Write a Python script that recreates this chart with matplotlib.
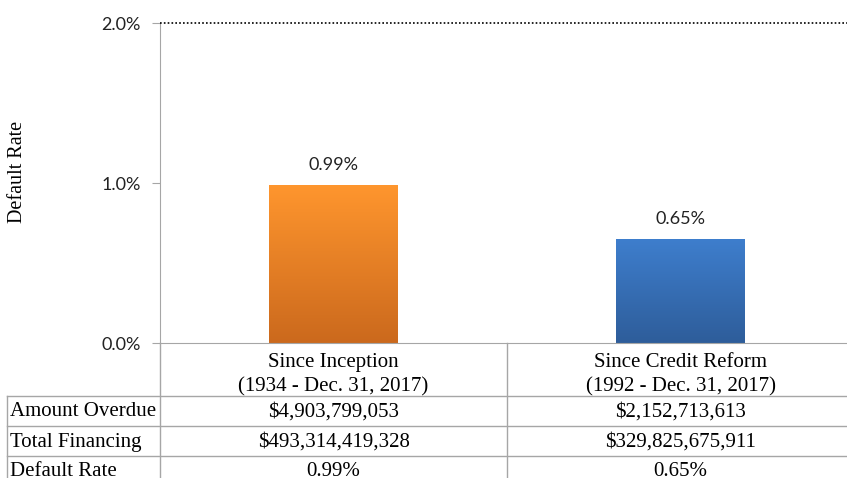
import numpy as np
import matplotlib
matplotlib.use("Agg")
import matplotlib.pyplot as plt
from matplotlib.transforms import blended_transform_factory
from matplotlib.lines import Line2D
from matplotlib.colors import LinearSegmentedColormap

# ---- data ----
categories = ["Since Inception\n(1934 - Dec. 31, 2017)",
              "Since Credit Reform\n(1992 - Dec. 31, 2017)"]
default_rates = [0.99, 0.65]
value_labels = ["0.99%", "0.65%"]
row_labels = ["Amount Overdue", "Total Financing", "Default Rate"]
amount_overdue = ["$4,903,799,053", "$2,152,713,613"]
total_financing = ["$493,314,419,328", "$329,825,675,911"]
rate_text = ["0.99%", "0.65%"]
y_ticks = [0.0, 1.0, 2.0]
y_tick_labels = ["0.0%", "1.0%", "2.0%"]
bar_top_colors = ["#FF962E", "#3E7ECD"]
bar_bottom_colors = ["#CB691D", "#2E5D9A"]

W, H = 847, 478
fig = plt.figure(figsize=(W / 100, H / 100), dpi=100)
fig.patch.set_facecolor("white")

def fx(px):
    return px / W

def fy(py):
    return 1 - py / H

ax_left, ax_right, ax_top, ax_bottom = 160, 854, 23, 343
ax = fig.add_axes([fx(ax_left), fy(ax_bottom), fx(ax_right - ax_left), (ax_bottom - ax_top) / H])
ax.set_xlim(-0.5, 1.5)
ax.set_ylim(0, 2.0)

xpos = np.arange(len(categories))
bar_w = 0.369
bars = ax.bar(xpos, default_rates, width=bar_w, color="none", edgecolor="none", zorder=2)
for i, b in enumerate(bars):
    cmap = LinearSegmentedColormap.from_list("g", [bar_bottom_colors[i], bar_top_colors[i]])
    grad = np.linspace(0, 1, 256).reshape(-1, 1)
    x0, y0 = b.get_x(), b.get_y()
    im = ax.imshow(grad, cmap=cmap, origin="lower", aspect="auto",
                   extent=[x0, x0 + b.get_width(), y0, y0 + b.get_height()], zorder=2)
    im.set_clip_path(b)
    ax.text(xpos[i], default_rates[i] + 0.125, value_labels[i], ha="center", va="center",
            fontsize=13, family="Lato", color="#222222")

ax.set_xlim(-0.5, 1.5)
ax.set_ylim(0, 2.0)

ax.set_yticks(y_ticks)
ax.set_yticklabels(y_tick_labels, family="Lato", fontsize=13, color="#222222")
ax.tick_params(axis="y", direction="out", length=6, color="#A6A6A6", pad=8)
ax.set_xticks([])
ax.spines["right"].set_visible(False)
ax.spines["top"].set_visible(False)
ax.spines["left"].set_color("#A6A6A6")
ax.spines["bottom"].set_color("#A6A6A6")
# dotted top gridline at the maximum tick
ax.axhline(y_ticks[-1], color="black", lw=1.2, linestyle=(0, (1, 1.3)),
           dash_capstyle="butt", clip_on=False, zorder=3)

fig.text(fx(18), fy(172), "Default Rate", rotation=90, ha="center", va="center",
         family="Liberation Serif", fontsize=14.5)

# ---- table below ----
tr = blended_transform_factory(ax.transData, fig.transFigure)
line_c = "#A6A6A6"
row_bounds = [343, 396, 426, 456, 486]
row_centers = [412, 442, 471]

for i, c in enumerate(categories):
    fig.text(xpos[i], fy(375), c, transform=tr,
             ha="center", va="center", family="Liberation Serif", fontsize=15,
             linespacing=1.4)

fig.add_artist(Line2D([fx(160), fx(160)], [fy(343), fy(486)], color=line_c, lw=1))
fig.add_artist(Line2D([0.5, 0.5], [fy(343), fy(486)], transform=tr, color=line_c, lw=1))
fig.add_artist(Line2D([fx(7), fx(7)], [fy(396), fy(486)], color=line_c, lw=1))
fig.add_artist(Line2D([1.5, 1.5], [fy(343), fy(486)], transform=tr, color=line_c, lw=1))
for yb in row_bounds[1:4]:
    fig.add_artist(Line2D([fx(7), 1.0], [fy(yb), fy(yb)], color=line_c, lw=1))

rows = [amount_overdue, total_financing, rate_text]
for r, (lab, vals) in enumerate(zip(row_labels, rows)):
    yc = row_centers[r]
    fig.text(fx(10), fy(yc), lab, ha="left", va="center", family="Liberation Serif", fontsize=15)
    for i, v in enumerate(vals):
        fig.text(xpos[i], fy(yc), v, transform=tr, ha="center", va="center",
                 family="Liberation Serif", fontsize=15)

fig.savefig("out.png", dpi=100)
